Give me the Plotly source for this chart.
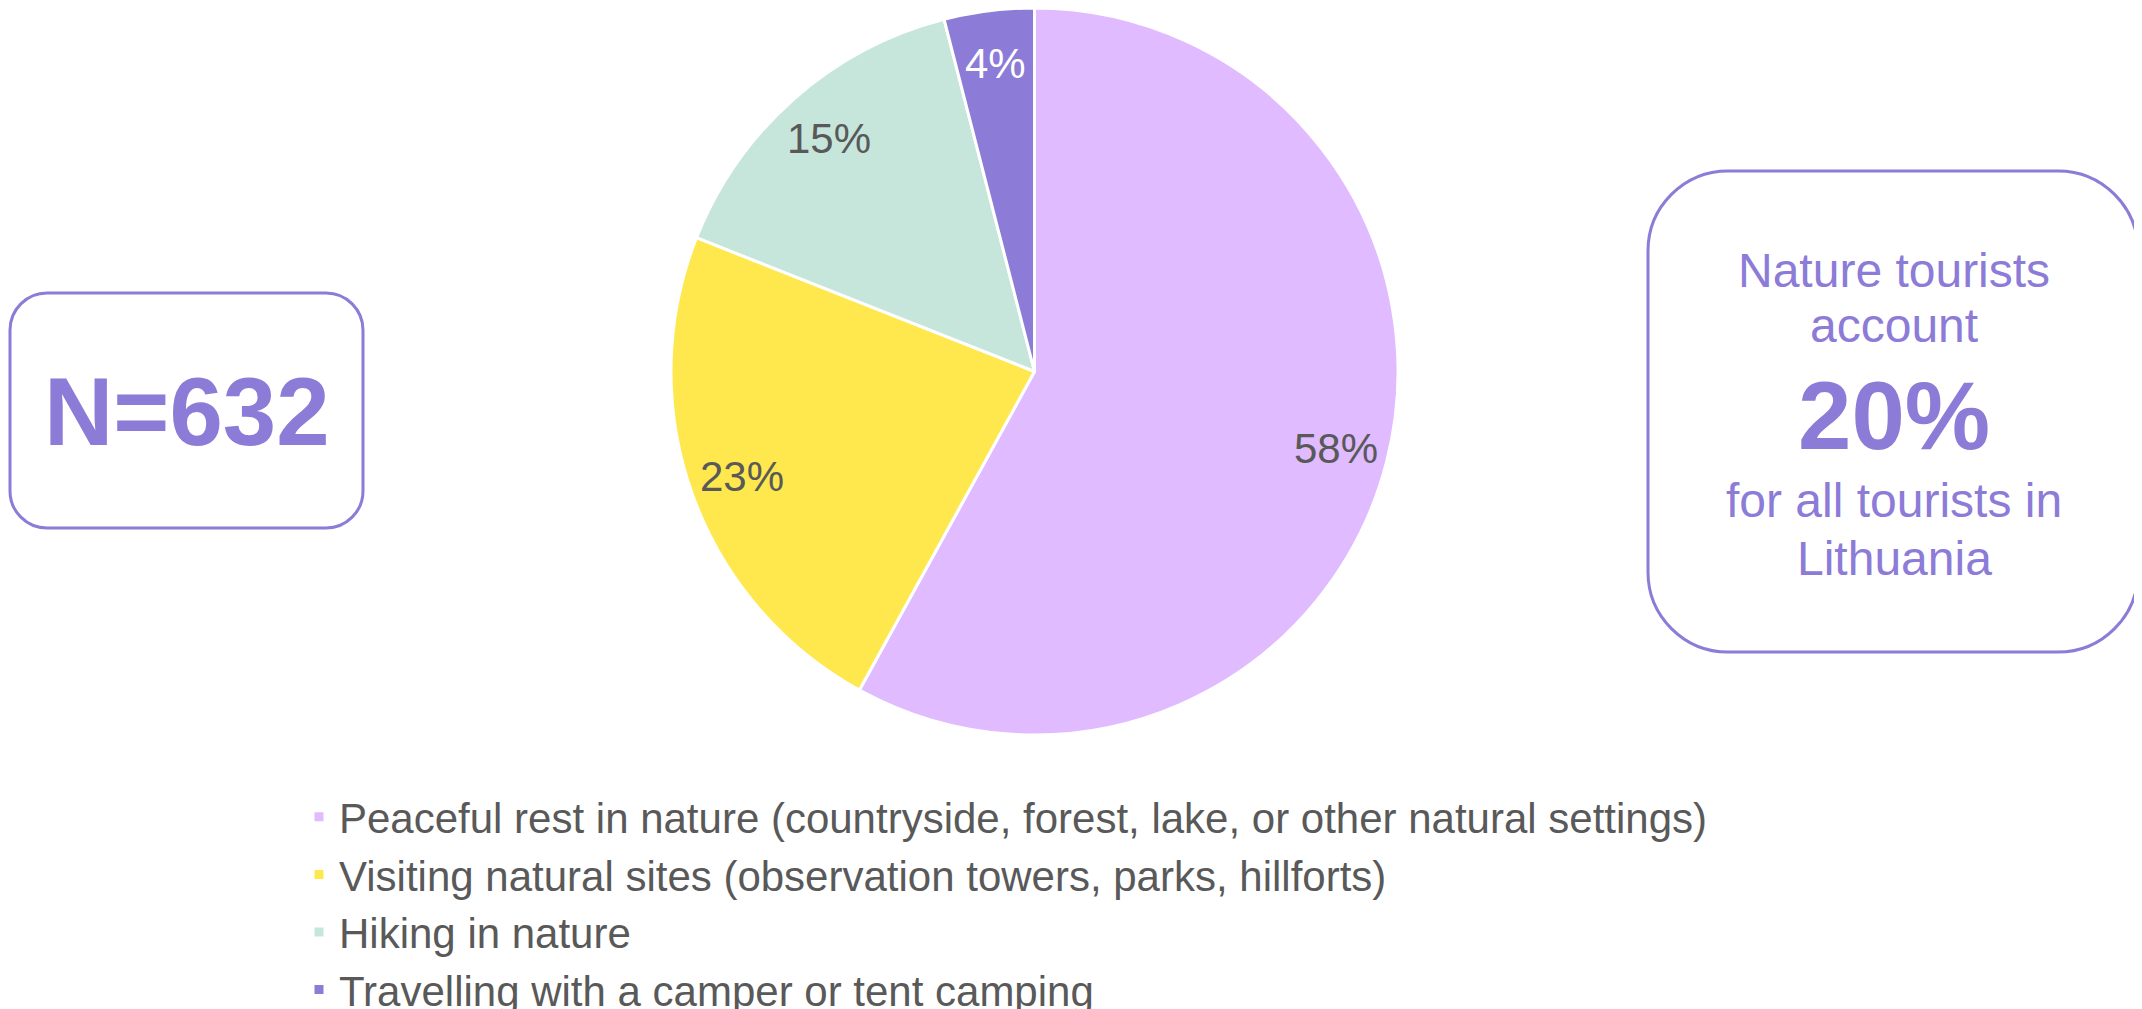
import math
import plotly.graph_objects as go

W, H = 2142, 1009
OFF = 8  # page offset of the plot element (body margin)

labels = [
    "Peaceful rest in nature (countryside, forest, lake, or other natural settings)",
    "Visiting natural sites (observation towers, parks, hillforts)",
    "Hiking in nature",
    "Travelling with a camper or tent camping",
]
values = [58, 23, 15, 4]
colors = ["#E0BBFF", "#FEE84E", "#C6E6DC", "#8C7BD7"]
text_colors = ["#595959", "#595959", "#595959", "#FFFFFF"]

sample_text = "N=632"
side_lines = ["Nature tourists", "account", "20%", "for all tourists in", "Lithuania"]

ACCENT = "#8C7BD7"
FONT = "Arial, Liberation Sans, sans-serif"


def px(x):
    return (x - OFF) / W


def py(y):
    return 1 - (y - OFF) / H


def rounded_rect(x0, y0, x1, y1, r):
    k = 0.5523 * r
    pts = [
        f"M{px(x0 + r)},{py(y0)}",
        f"L{px(x1 - r)},{py(y0)}",
        f"C{px(x1 - r + k)},{py(y0)} {px(x1)},{py(y0 + r - k)} {px(x1)},{py(y0 + r)}",
        f"L{px(x1)},{py(y1 - r)}",
        f"C{px(x1)},{py(y1 - r + k)} {px(x1 - r + k)},{py(y1)} {px(x1 - r)},{py(y1)}",
        f"L{px(x0 + r)},{py(y1)}",
        f"C{px(x0 + r - k)},{py(y1)} {px(x0)},{py(y1 - r + k)} {px(x0)},{py(y1 - r)}",
        f"L{px(x0)},{py(y0 + r)}",
        f"C{px(x0)},{py(y0 + r - k)} {px(x0 + r - k)},{py(y0)} {px(x0 + r)},{py(y0)}",
        "Z",
    ]
    return " ".join(pts)


dom_x = [px(671), px(1398)]
dom_y = [py(735), py(8)]

fig = go.Figure(
    go.Pie(
        labels=labels,
        values=values,
        sort=False,
        direction="clockwise",
        rotation=0,
        marker=dict(colors=colors, line=dict(color="#FFFFFF", width=3)),
        textinfo="none",
        domain=dict(x=dom_x, y=dom_y),
        hoverinfo="label+percent",
    )
)

# data labels placed along each slice's middle angle (best-fit style)
cxp = (dom_x[0] + dom_x[1]) / 2
cyp = (dom_y[0] + dom_y[1]) / 2
R = min((dom_x[1] - dom_x[0]) * W, (dom_y[1] - dom_y[0]) * H) / 2
LABEL_FRAC = 0.855
total = sum(values)
annotations = []
cum = 0
for v, tc in zip(values, text_colors):
    mid = (cum + v / 2) / total * 2 * math.pi
    cum += v
    annotations.append(dict(
        text=f"{round(100 * v / total)}%",
        x=cxp + LABEL_FRAC * R * math.sin(mid) / W,
        y=cyp + LABEL_FRAC * R * math.cos(mid) / H,
        xref="paper", yref="paper", showarrow=False,
        xanchor="center", yanchor="middle",
        font=dict(family=FONT, size=42, color=tc),
    ))

shapes = [
    dict(type="path", xref="paper", yref="paper",
         path=rounded_rect(10, 293, 363, 528, 37),
         line=dict(color=ACCENT, width=3), fillcolor="rgba(0,0,0,0)"),
    dict(type="path", xref="paper", yref="paper",
         path=rounded_rect(1648, 171, 2138, 652, 80),
         line=dict(color=ACCENT, width=3), fillcolor="rgba(0,0,0,0)"),
]

annotations.append(dict(
    text=f"<b>{sample_text}</b>", x=px(187), y=py(411), xref="paper", yref="paper",
    showarrow=False, xanchor="center", yanchor="middle",
    font=dict(family=FONT, size=96, color=ACCENT)))

side_y = [270, 325, 415, 501, 558]
side_size = [48, 48, 96, 48, 48]
for t, yy, s in zip(side_lines, side_y, side_size):
    txt = f"<b>{t}</b>" if s > 60 else t
    annotations.append(dict(text=txt, x=px(1894), y=py(yy), xref="paper", yref="paper",
                            showarrow=False, xanchor="center", yanchor="middle",
                            font=dict(family=FONT, size=s, color=ACCENT)))

fig.update_layout(
    width=W, height=H,
    margin=dict(l=0, r=0, t=0, b=0, autoexpand=False),
    paper_bgcolor="#FFFFFF",
    plot_bgcolor="#FFFFFF",
    font=dict(family=FONT, color="#595959"),
    shapes=shapes,
    annotations=annotations,
    showlegend=True,
    legend=dict(
        orientation="v",
        x=px(299), xanchor="left",
        y=py(783), yanchor="top",
        font=dict(family=FONT, size=42, color="#595959"),
        bgcolor="rgba(0,0,0,0)",
        traceorder="normal",
    ),
)

fig.write_html("out.html")
